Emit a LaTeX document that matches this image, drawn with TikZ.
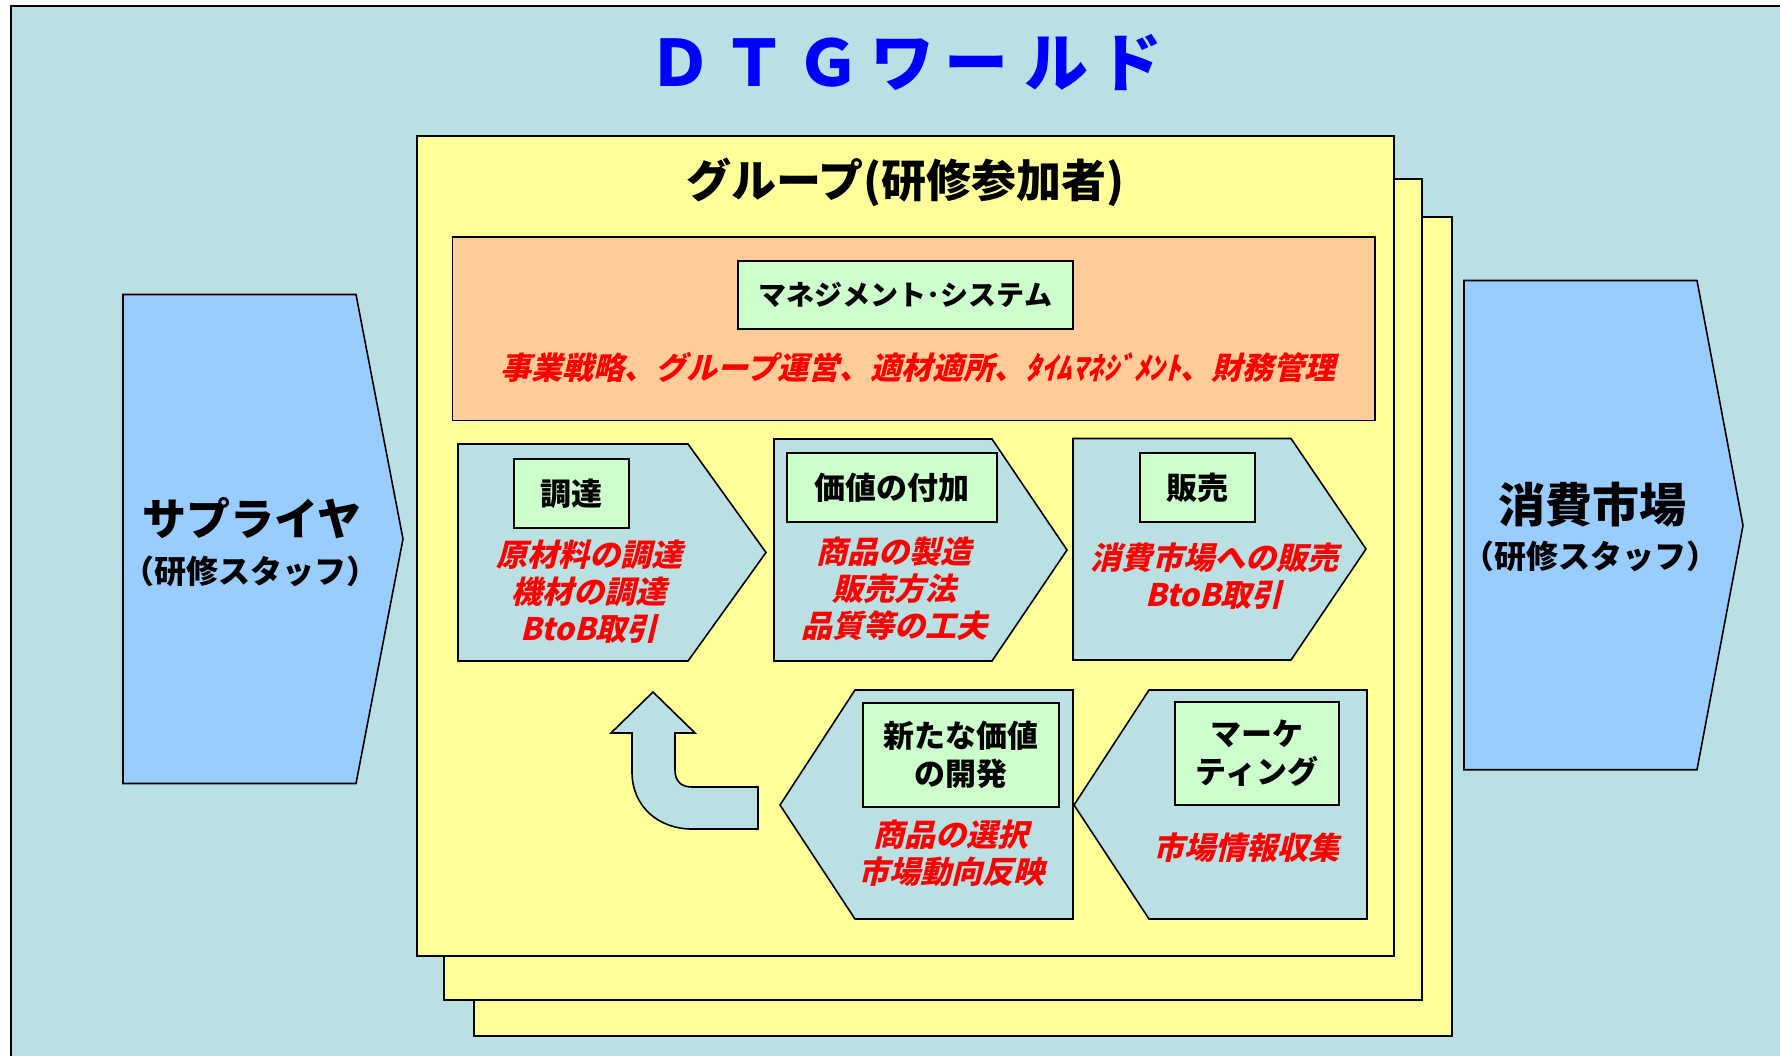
\documentclass[tikz,border=0pt]{standalone}
\usepackage{fontspec}
\setmainfont{Noto Sans CJK JP}
\newfontfamily\jpb{Noto Sans CJK JP Black}
\newfontfamily\jpred{Noto Sans CJK JP Black}[FakeSlant=0.24]
\definecolor{bgc}{RGB}{187,224,227}
\definecolor{yelc}{RGB}{255,255,153}
\definecolor{orac}{RGB}{255,204,153}
\definecolor{grnc}{RGB}{204,255,204}
\definecolor{bluc}{RGB}{153,204,255}
\definecolor{ttlc}{RGB}{0,0,255}
\definecolor{redc}{RGB}{255,0,0}
\begin{document}
\begin{tikzpicture}[x=1pt,y=-1pt,
  shp/.style={draw=black, line width=1.6pt, line join=miter},
  gbox/.style={draw=black, fill=grnc, line width=1.6pt, inner sep=0pt},
  lbl/.style={font=\jpb\fontsize{31}{38}\selectfont, align=center, text=black},
  redtxt/.style={font=\jpred\fontsize{31}{37}\selectfont, align=center, text=redc},
  bigtxt/.style={font=\jpb\fontsize{44}{50}\selectfont, align=center},
  subtxt/.style={font=\jpb\fontsize{32}{36}\selectfont, align=center}]
\useasboundingbox (0,0) rectangle (1780,1055);
\fill[white] (0,0) rectangle (1780,1055);
\fill[bgc] (11,6) rectangle (1800,1075);
\draw[line width=1.6pt] (11,1075) -- (11,6) -- (1800,6);

% title
\node[font=\jpb\fontsize{64}{72}\selectfont, text=ttlc] (title) at (905.5,63)
  {Ｄ\kern10ptＴ\kern10ptＧ\kern10ptワ\kern10ptー\kern16ptル\kern10ptド};

% side arrows
\draw[shp, fill=bluc] (123,294.5) -- (356,294.5) -- (403,539) -- (356,783.5) -- (123,783.5) -- cycle;
\node[bigtxt] (sup) at (252,518) {サプライヤ};
\node[subtxt] (supsub) at (250,571) {（研修スタッフ）};
\draw[shp, fill=bluc] (1464,280.5) -- (1697,280.5) -- (1743,525.5) -- (1697,769.7) -- (1464,769.7) -- cycle;
\node[bigtxt, font=\jpb\fontsize{47}{52}\selectfont] (mkt) at (1592,505) {消費市場};
\node[subtxt] (mktsub) at (1590,556) {（研修スタッフ）};

% group boxes
\draw[shp, fill=yelc] (474,217) rectangle (1452,1036);
\draw[shp, fill=yelc] (444,179) rectangle (1422,1000);
\draw[shp, fill=yelc] (417,136) rectangle (1394,956);
\node[font=\jpb\fontsize{45}{52}\selectfont] (grp) at (905.5,182) {グループ(研修参加者)};

% management
\draw[shp, fill=orac] (452.5,237) rectangle (1375,420.5);
\node[gbox, lbl, font=\jpb\fontsize{28}{32}\selectfont, minimum width=335pt, minimum height=68pt] (ms) at (905.5,295) {マネジメント･システム};
\node[redtxt] (mstxt) at (918,367) {事業戦略、グループ運営、適材適所、ﾀｲﾑﾏﾈｼﾞﾒﾝﾄ、財務管理};

% upper chevrons
\draw[shp, fill=bgc] (458,444) -- (688,444) -- (766,552.5) -- (688,661) -- (458,661) -- cycle;
\node[gbox, lbl, minimum width=115pt, minimum height=69pt] (g1) at (571.5,493.5) {調達};
\node[redtxt] (t1) at (589,592) {原材料の調達\\機材の調達\\BtoB取引};

\draw[shp, fill=bgc] (774,439) -- (992,439) -- (1067,550) -- (992,661) -- (774,661) -- cycle;
\node[gbox, lbl, minimum width=210pt, minimum height=69pt] (g2) at (892,487.5) {価値の付加};
\node[redtxt] (t2) at (894,589) {商品の製造\\販売方法\\品質等の工夫};

\draw[shp, fill=bgc] (1073,438.5) -- (1291,438.5) -- (1366,549) -- (1291,660) -- (1073,660) -- cycle;
\node[gbox, lbl, minimum width=115pt, minimum height=69pt] (g3) at (1197.5,487.5) {販売};
\node[redtxt] (t3) at (1214,576) {消費市場への販売\\BtoB取引};

% lower chevrons
\draw[shp, fill=bgc] (855,690) -- (1073,690) -- (1073,919) -- (855,919) -- (780,805) -- cycle;
\node[gbox, lbl, minimum width=196pt, minimum height=104pt] (g4) at (961,755) {新たな価値\\の開発};
\node[redtxt] (t4) at (951,853) {商品の選択\\市場動向反映};

\draw[shp, fill=bgc] (1149,690) -- (1367,690) -- (1367,919) -- (1149,919) -- (1074,805) -- cycle;
\node[gbox, lbl, minimum width=164pt, minimum height=103pt] (g5) at (1257,753.5) {マーケ\\ティング};
\node[redtxt] (t5) at (1246,848) {市場情報収集};

% U-turn arrow
\draw[shp, fill=bgc] (758,787) -- (692,787) .. controls (681,787) and (675,781) .. (675,770)
  -- (675,733) -- (695,733) -- (653,692) -- (611,733) -- (632,733) -- (632,772)
  .. controls (632,806) and (658,829) .. (692,829) -- (758,829) -- cycle;
\end{tikzpicture}
\end{document}
